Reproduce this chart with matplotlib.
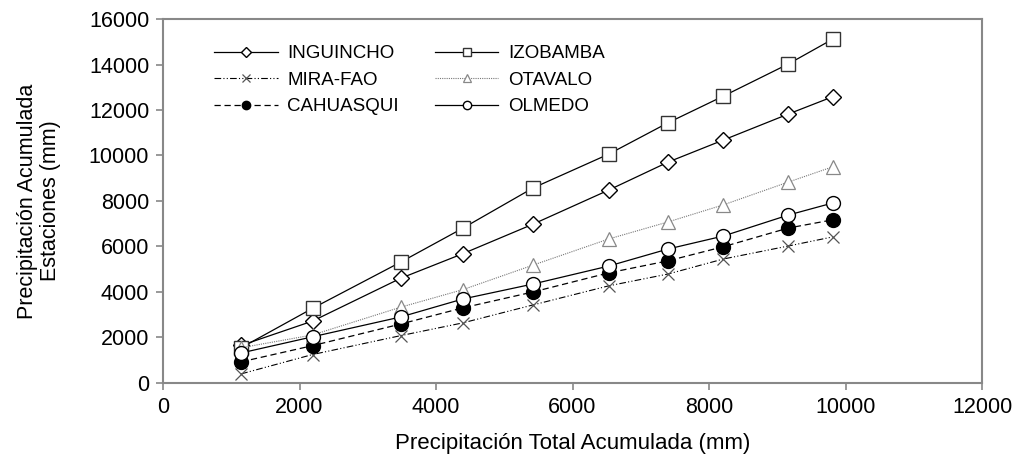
import numpy as np
import matplotlib.pyplot as plt

plt.rcParams['font.family'] = ['Liberation Sans', 'DejaVu Sans']

# Precipitación total acumulada (eje x)
x_total = [1145, 2190, 3480, 4390, 5420, 6530, 7400, 8210, 9160, 9810]

inguincho = [1650, 2720, 4600, 5680, 6980, 8480, 9710, 10680, 11820, 12580]
izobamba  = [1550, 3280, 5310, 6800, 8570, 10060, 11440, 12610, 14020, 15110]
mira_fao  = [400, 1250, 2080, 2640, 3430, 4270, 4790, 5450, 6020, 6420]
otavalo   = [1550, 2110, 3330, 4100, 5180, 6330, 7080, 7830, 8830, 9500]
cahuasqui = [930, 1640, 2590, 3300, 4000, 4840, 5370, 5990, 6810, 7170]
olmedo    = [1320, 2030, 2900, 3690, 4350, 5140, 5890, 6460, 7380, 7910]

fig = plt.figure(figsize=(10.19, 4.58), dpi=100)
ax = fig.add_axes([0.16, 0.1638, 0.8037, 0.7947])

ms = 10
ax.plot(x_total, inguincho, '-', color='black', lw=0.9, marker='D', ms=ms * 0.85,
        mfc='white', mec='black', mew=1.0, label='INGUINCHO', zorder=3)
ax.plot(x_total, mira_fao, color='black', lw=0.8, dashes=[6, 2, 1, 2, 1, 2],
        marker='x', ms=ms * 0.9, mec='#555555', mew=0.9, label='MIRA-FAO', zorder=3)
ax.plot(x_total, cahuasqui, color='black', lw=0.9, dashes=[5, 3],
        marker='o', ms=ms, mfc='black', mec='black', label='CAHUASQUI', zorder=3)
ax.plot(x_total, izobamba, '-', color='black', lw=0.9, marker='s', ms=ms,
        mfc='white', mec='#333333', mew=1.0, label='IZOBAMBA', zorder=3)
ax.plot(x_total, otavalo, color='#777777', lw=0.8, dashes=[1, 1],
        marker='^', ms=ms, mfc='white', mec='#888888', mew=0.9, label='OTAVALO', zorder=3)
ax.plot(x_total, olmedo, '-', color='black', lw=0.9, marker='o', ms=ms,
        mfc='white', mec='black', mew=1.0, label='OLMEDO', zorder=4)

ax.set_xlim(0, 12000)
ax.set_ylim(0, 16000)
ax.set_xticks(np.arange(0, 12001, 2000))
ax.set_yticks(np.arange(0, 16001, 2000))

for s in ax.spines.values():
    s.set_color('#888888')
    s.set_linewidth(1.5)
ax.tick_params(axis='both', direction='out', length=5, width=1.2, color='#888888',
               labelsize=15.5, pad=5)

ax.set_xlabel('Precipitación Total Acumulada (mm)', fontsize=16, labelpad=11)
ax.set_ylabel('Precipitación Acumulada\nEstaciones (mm)', fontsize=15.5, labelpad=20,
              linespacing=1.1)

ax.legend(loc='upper left', ncol=2, frameon=False, fontsize=13.5,
          handlelength=3.4, markerscale=0.6, columnspacing=1.9,
          labelspacing=0.5, handletextpad=0.5,
          bbox_to_anchor=(0.042, 0.975))

fig.savefig('out.png', dpi=100)
